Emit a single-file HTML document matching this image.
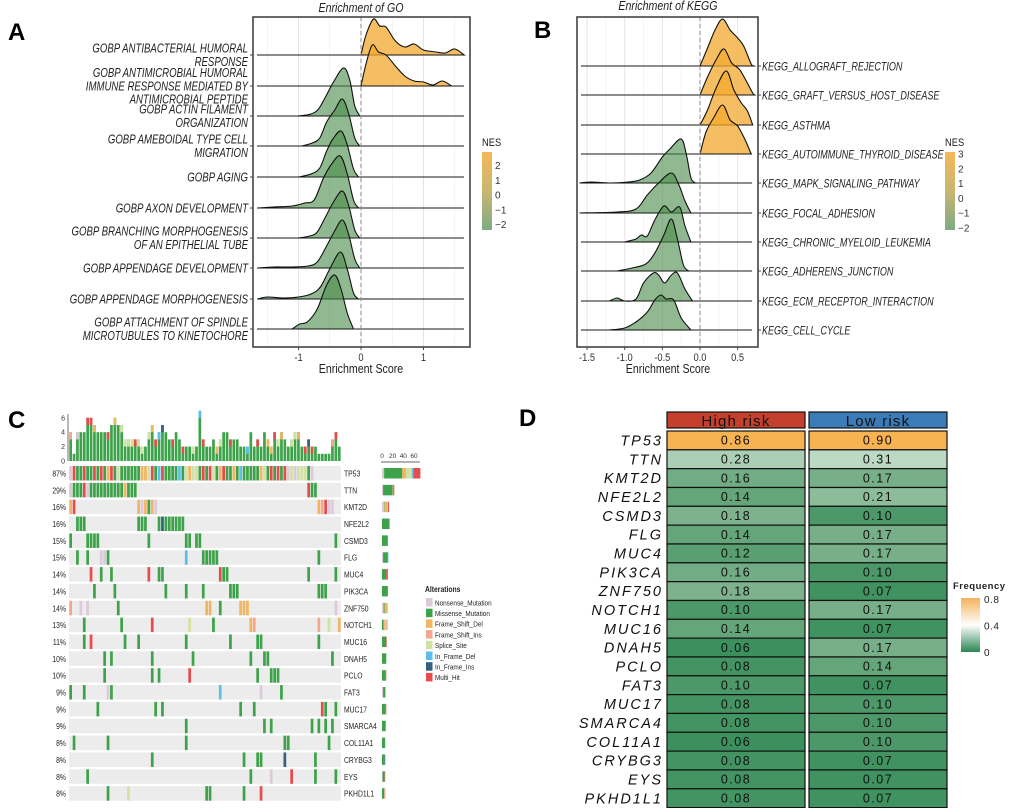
<!DOCTYPE html>
<html><head><meta charset="utf-8"><style>
html,body{margin:0;padding:0;background:#fff;}
svg{display:block;font-family:"Liberation Sans",sans-serif;}
</style></head><body>
<svg id="fig" width="1020" height="808" viewBox="0 0 1020 808" xmlns="http://www.w3.org/2000/svg">
<defs>
<linearGradient id="nesA" x1="0" y1="0" x2="0" y2="1"><stop offset="0" stop-color="#f6b758"/><stop offset="0.5" stop-color="#c9b670"/><stop offset="1" stop-color="#7dab83"/></linearGradient>
<linearGradient id="freqG" x1="0" y1="0" x2="0" y2="1"><stop offset="0" stop-color="#f4b25a"/><stop offset="0.5" stop-color="#ffffff"/><stop offset="1" stop-color="#2a8753"/></linearGradient>
</defs>
<g id="panelA"></g>
<g id="panelB"></g>
<g id="panelC"></g>
<g id="panelD"></g>
<text x="8" y="40" font-size="24" font-weight="bold">A</text>
<text x="534" y="38" font-size="24" font-weight="bold">B</text>
<text x="8" y="428" font-size="24" font-weight="bold">C</text>
<text x="519" y="426" font-size="24" font-weight="bold">D</text>
</svg>
<script>
// ---------- Panel A data ----------
const goTerms = [
 ["GOBP ANTIBACTERIAL HUMORAL","RESPONSE"],
 ["GOBP ANTIMICROBIAL HUMORAL","IMMUNE RESPONSE MEDIATED BY","ANTIMICROBIAL PEPTIDE"],
 ["GOBP ACTIN FILAMENT","ORGANIZATION"],
 ["GOBP AMEBOIDAL TYPE CELL","MIGRATION"],
 ["GOBP AGING"],
 ["GOBP AXON DEVELOPMENT"],
 ["GOBP BRANCHING MORPHOGENESIS","OF AN EPITHELIAL TUBE"],
 ["GOBP APPENDAGE DEVELOPMENT"],
 ["GOBP APPENDAGE MORPHOGENESIS"],
 ["GOBP ATTACHMENT OF SPINDLE","MICROTUBULES TO KINETOCHORE"]
];
const goNES = [2.5, 2.4, -1.9, -1.9, -1.9, -1.9, -1.9, -1.9, -1.9, -2.0];
const goRidges = [
 [[0,0],[0.08,20],[0.2,36],[0.3,29],[0.4,28],[0.55,14],[0.7,8],[0.85,11],[1.0,5],[1.2,3],[1.35,2],[1.5,6],[1.65,0]],
 [[0,0],[0.08,22],[0.18,41],[0.28,34],[0.4,31],[0.55,20],[0.7,10],[0.85,5],[1.0,4],[1.15,1],[1.3,5],[1.45,0]],
 [[-1.0,0],[-0.8,2],[-0.68,7],[-0.56,20],[-0.44,34],[-0.28,48],[-0.18,36],[-0.1,10],[-0.02,0]],
 [[-0.95,0],[-0.78,3],[-0.66,8],[-0.55,24],[-0.42,36],[-0.3,47],[-0.2,33],[-0.1,8],[-0.02,0]],
 [[-1.0,0],[-0.8,3],[-0.66,9],[-0.55,26],[-0.45,38],[-0.32,46],[-0.22,32],[-0.12,8],[-0.04,0]],
 [[-1.65,0],[-1.4,1],[-1.1,2],[-0.9,5],[-0.75,8],[-0.6,30],[-0.47,44],[-0.33,52],[-0.22,34],[-0.12,8],[-0.04,0]],
 [[-1.0,0],[-0.82,2],[-0.7,6],[-0.56,22],[-0.44,36],[-0.3,47],[-0.2,33],[-0.1,8],[-0.02,0]],
 [[-1.65,0],[-1.4,1],[-1.1,1],[-0.85,2],[-0.7,6],[-0.55,22],[-0.43,36],[-0.3,48],[-0.2,34],[-0.1,9],[-0.02,0]],
 [[-1.65,0],[-1.5,2],[-1.25,1],[-1.0,2],[-0.8,5],[-0.65,12],[-0.5,30],[-0.33,47],[-0.22,30],[-0.12,6],[-0.04,0]],
 [[-1.1,0],[-0.98,5],[-0.86,7],[-0.7,20],[-0.55,44],[-0.42,54],[-0.32,40],[-0.22,16],[-0.12,0]]
];
const goTicks = [-1, 0, 1];
const goTickLabels = ["-1","0","1"];
const nesTicksA = [2,1,0,-1,-2];

// ---------- Panel B data ----------
const keggTerms = ["KEGG_ALLOGRAFT_REJECTION","KEGG_GRAFT_VERSUS_HOST_DISEASE","KEGG_ASTHMA","KEGG_AUTOIMMUNE_THYROID_DISEASE","KEGG_MAPK_SIGNALING_PATHWAY","KEGG_FOCAL_ADHESION","KEGG_CHRONIC_MYELOID_LEUKEMIA","KEGG_ADHERENS_JUNCTION","KEGG_ECM_RECEPTOR_INTERACTION","KEGG_CELL_CYCLE"];
const keggNES = [2.8, 2.8, 2.7, 2.6, -1.9, -1.9, -1.9, -2.0, -1.9, -2.0];
const keggRidges = [
 [[0,0],[0.1,18],[0.2,36],[0.3,47],[0.4,36],[0.5,28],[0.58,20],[0.68,2],[0.72,0]],
 [[0,0],[0.1,18],[0.22,36],[0.32,46],[0.42,32],[0.52,26],[0.6,16],[0.7,2],[0.73,0]],
 [[0,0],[0.1,15],[0.22,38],[0.35,54],[0.45,35],[0.55,22],[0.63,14],[0.7,0]],
 [[0,0],[0.08,22],[0.18,36],[0.3,49],[0.4,34],[0.5,28],[0.6,14],[0.68,0]],
 [[-1.6,0],[-1.45,1],[-1.2,0],[-0.95,1],[-0.8,3],[-0.65,10],[-0.5,26],[-0.4,34],[-0.25,44],[-0.18,28],[-0.12,5],[-0.06,0]],
 [[-1.6,0],[-1.1,1],[-0.85,4],[-0.7,18],[-0.55,30],[-0.38,40],[-0.28,28],[-0.2,12],[-0.12,0]],
 [[-1.0,0],[-0.85,3],[-0.78,7],[-0.7,6],[-0.6,22],[-0.48,36],[-0.38,30],[-0.27,35],[-0.2,16],[-0.12,0]],
 [[-1.1,0],[-0.9,3],[-0.72,7],[-0.6,18],[-0.48,36],[-0.38,52],[-0.3,32],[-0.22,6],[-0.15,0]],
 [[-1.2,0],[-1.1,3],[-1.0,0],[-0.85,2],[-0.75,18],[-0.62,28],[-0.55,26],[-0.47,18],[-0.38,26],[-0.3,28],[-0.2,12],[-0.1,0]],
 [[-1.2,0],[-1.0,2],[-0.85,8],[-0.7,18],[-0.6,30],[-0.52,35],[-0.45,31],[-0.35,30],[-0.25,12],[-0.12,0]]
];
const keggTicks = [-1.5,-1.0,-0.5,0.0,0.5];
const keggTickLabels = ["-1.5","-1.0","-0.5","0.0","0.5"];
const nesTicksB = [3,2,1,0,-1,-2];

// ---------- Panel C data ----------
const oncoGenes = ["TP53","TTN","KMT2D","NFE2L2","CSMD3","FLG","MUC4","PIK3CA","ZNF750","NOTCH1","MUC16","DNAH5","PCLO","FAT3","MUC17","SMARCA4","COL11A1","CRYBG3","EYS","PKHD1L1"];
const oncoPct = ["87%","29%","16%","16%","15%","15%","14%","14%","14%","13%","11%","10%","10%","9%","9%","9%","8%","8%","8%","8%"];
const oncoRows = [
 "NHMMHMMHMHMDHMSMMMMMMDDSHMdHMMMMdMSDSSMHMHSMDHMMDMdMMMMMDSMHMHMHNSNSSSMN..........",
 "NMMMHNMMMMMMMMMMDMMM..................................................HMM.......",
 "DH..................DNDMDN...............................................DIHNN...",
 "..MMM...............MMM...MiMMMMMM..............................................",
 "M....MMMM..............M..........MM.MM.......................................M.",
 "..M..M...NNM......................d....MMMMM.............................M......",
 "......H..M..M..........H..MM................HMM.......................M.......M.",
 ".......M.....M..............M.....M....M.......MMM.......................MMM....",
 "I..N.N........M.........................DD..M.....DDD.........................N.",
 "....M..........M........H..........S......M..........DI..................I..S..D",
 "....M.H.........M...M.............M............M.......MM................M......",
 "..........M.M...........M...........M................M...MM..................M..",
 "..........M.............M.M........H...................M...MMM..................",
 "M...M......NM...............................d...........N.....M.................",
 "........M................M.M......................M...M...................HM..M.",
 "..................................M......................M.M...........M.M.M.M..",
 ".M.........M......................M............................MM...........M....",
 "........................M..........................M...MM......i........M.......",
 ".....M...............................................M.....N.....H......M.....M.",
 "...........M.....S......................MM.........M....H......................."
];
const topCounts = [4,1,4,4,4,6,6,5,4,4,4,4,5,6,5,5,3,3,3,3,3,2,2,4,5,3,4,5,4,3,3,4,3,2,2,2,2,2,7,3,2,2,3,2,3,4,4,3,3,3,2,2,2,4,2,3,2,4,3,2,4,3,4,3,2,3,4,4,2,2,3,2,2,1,1,1,1,3,4,2];
const topTopType = "IMNMMHHDMMMHMDMSSSSHSSMSDHdiMMHMMHMMSMdHMMMDSMMHMMMMdMMHMMDDHSDMMSSDMHiHMMSSSIHMM";
const oncoTypes = {N:"#dccadc",M:"#3da34a",D:"#f2b562",I:"#f5a78e",S:"#d2e2a2",d:"#5dbfe9",i:"#33617f",H:"#e84b4b"};
const legendNames = [["N","Nonsense_Mutation"],["M","Missense_Mutation"],["D","Frame_Shift_Del"],["I","Frame_Shift_Ins"],["S","Splice_Site"],["d","In_Frame_Del"],["i","In_Frame_Ins"],["H","Multi_Hit"]];
const topTicks = [0,2,4,6];
const sideTicks = [0,20,40,60];

// ---------- Panel D data ----------
const freqGenes = ["TP53","TTN","KMT2D","NFE2L2","CSMD3","FLG","MUC4","PIK3CA","ZNF750","NOTCH1","MUC16","DNAH5","PCLO","FAT3","MUC17","SMARCA4","COL11A1","CRYBG3","EYS","PKHD1L1"];
const freqHigh = [0.86,0.28,0.16,0.14,0.18,0.14,0.12,0.16,0.18,0.10,0.14,0.06,0.08,0.10,0.08,0.08,0.06,0.08,0.08,0.08];
const freqLow = [0.90,0.31,0.17,0.21,0.10,0.17,0.17,0.10,0.07,0.17,0.07,0.17,0.14,0.07,0.10,0.10,0.10,0.07,0.07,0.07];
const groups = ["High risk","Low risk"];
const freqTicks = [0.8,0.4,0];

// ---------- helpers ----------
const NS = "http://www.w3.org/2000/svg";
function mk(parent, tag, attrs, text){
  const e = document.createElementNS(NS, tag);
  for (const k in attrs) e.setAttribute(k, attrs[k]);
  if (text !== undefined) e.textContent = text;
  parent.appendChild(e);
  return e;
}
function smoothPath(pts){
  let d = `M${pts[0][0].toFixed(2)},${pts[0][1].toFixed(2)}`;
  for (let i=0;i<pts.length-1;i++){
    const p0=pts[i-1]||pts[i], p1=pts[i], p2=pts[i+1], p3=pts[i+2]||p2;
    const c1x=p1[0]+(p2[0]-p0[0])/6, c1y=p1[1]+(p2[1]-p0[1])/6;
    const c2x=p2[0]-(p3[0]-p1[0])/6, c2y=p2[1]-(p3[1]-p1[1])/6;
    d += `C${c1x.toFixed(2)},${c1y.toFixed(2)} ${c2x.toFixed(2)},${c2y.toFixed(2)} ${p2[0].toFixed(2)},${p2[1].toFixed(2)}`;
  }
  return d;
}
function ridgePanel(g, cfg){
  const {left,right,top,bottom,x0,xs,baselines,ridges,nes,ticks,tickLabels,gridMinor} = cfg;
  const X = v => x0 + v*xs;
  gridMinor.forEach(v=>{
    const l = mk(g,"line",{x1:X(v),x2:X(v),y1:top,y2:bottom,stroke:"#ececec","stroke-width":0.6});
    
    
  });
  ticks.forEach(v=>{
    const l = mk(g,"line",{x1:X(v),x2:X(v),y1:top,y2:bottom,stroke:"#e2e2e2","stroke-width":0.9});
    
    
  });
  ridges.forEach((r,i)=>{
    const b = baselines[i];
    const pts = r.map(p=>[X(p[0]), b - p[1]]);
    const fill = nes[i] > 0 ? "rgba(243,168,45,0.75)" : "rgba(72,138,72,0.6)";
    const base = mk(g,"line",{x1:left+4,x2:right-6,y1:b,y2:b,stroke:"#1a1a1a","stroke-width":1.1});
    
    
    const p = mk(g,"path",{d:smoothPath(pts)+"Z",fill:fill,stroke:"#111","stroke-width":1.1});
    
    
  });
  const z = mk(g,"line",{x1:X(0),x2:X(0),y1:top,y2:bottom,stroke:"#888","stroke-width":1,"stroke-dasharray":"4,3"});
  
  
  const fr = mk(g,"rect",{x:left,y:top,width:right-left,height:bottom-top,fill:"none",stroke:"#444","stroke-width":1.6});
  
  
  ticks.forEach((v,i)=>{
    const t = mk(g,"line",{x1:X(v),x2:X(v),y1:bottom,y2:bottom+3,stroke:"#444"});
    
    
    const tx = mk(g,"text",{x:X(v),y:bottom+14,"font-size":11,"text-anchor":"middle",fill:"#333",transform:`translate(${X(v)},0) scale(0.85,1) translate(${-X(v)},0)`},tickLabels[i]);
    
    
  });
}

// ---------- Panel A ----------
(function(){
  const g = document.getElementById('panelA');
  const baselines = [55,86,116,146,177,208,238,268,299,329];
  ridgePanel(g,{left:253,right:470,top:17,bottom:347,x0:361,xs:62.5,baselines,ridges:goRidges,nes:goNES,ticks:goTicks,tickLabels:goTickLabels,gridMinor:[-1.5,-0.5,0.5,1.5]});
  const t = mk(g,"text",{x:361,y:12,"font-size":12.5,"font-style":"italic","text-anchor":"middle",fill:"#222",transform:"translate(361,0) scale(0.85,1) translate(-361,0)"},"Enrichment of GO");
   
  const xt = mk(g,"text",{x:361,y:373,"font-size":12.5,"text-anchor":"middle",fill:"#222",transform:"translate(361,0) scale(0.85,1) translate(-361,0)"},"Enrichment Score");
   
  goTerms.forEach((lines,i)=>{
    const b = baselines[i];
    const tk = mk(g,"line",{x1:250,x2:253,y1:b,y2:b,stroke:"#444"});
     
    lines.forEach((s,j)=>{
      const y = b + (j-(lines.length-1)/2)*13.4 + 4.3;
      const tx = mk(g,"text",{x:248,y:y,"font-size":12.5,"font-style":"italic","text-anchor":"end",fill:"#222",transform:`translate(248,0) scale(0.77,1) translate(-248,0)`},s);
       
    });
  });
  const lt = mk(g,"text",{x:482,y:146,"font-size":11,fill:"#222",transform:"translate(482,0) scale(0.85,1) translate(-482,0)"},"NES");
   
  const cb = mk(g,"rect",{x:482,y:152,width:10,height:78,fill:"url(#nesA)"});
   
  nesTicksA.forEach(v=>{
    const y = 230 - (v+2.4)/(2.9+2.4)*78;
    const tx = mk(g,"text",{x:495,y:y+4,"font-size":10,fill:"#333"},v<0?"\u2212"+Math.abs(v):String(v));
     
  });
})();

// ---------- Panel B ----------
(function(){
  const g = document.getElementById('panelB');
  const baselines = [66,95,125,154,183,213,242,271,301,330];
  ridgePanel(g,{left:577,right:758,top:17,bottom:347,x0:700,xs:75.3,baselines,ridges:keggRidges,nes:keggNES,ticks:keggTicks,tickLabels:keggTickLabels,gridMinor:[-1.25,-0.75,-0.25,0.25]});
  const t = mk(g,"text",{x:668,y:10,"font-size":12.5,"font-style":"italic","text-anchor":"middle",fill:"#222",transform:"translate(668,0) scale(0.85,1) translate(-668,0)"},"Enrichment of KEGG");
   
  const xt = mk(g,"text",{x:668,y:373,"font-size":12.5,"text-anchor":"middle",fill:"#222",transform:"translate(668,0) scale(0.85,1) translate(-668,0)"},"Enrichment Score");
   
  keggTerms.forEach((s,i)=>{
    const b = baselines[i];
    const tk = mk(g,"line",{x1:758,x2:761,y1:b,y2:b,stroke:"#444"});
     
    const tx = mk(g,"text",{x:762,y:b+4.3,"font-size":12,"font-style":"italic",fill:"#222",transform:"translate(762,0) scale(0.75,1) translate(-762,0)"},s);
     
  });
  const lt = mk(g,"text",{x:945,y:146,"font-size":11,fill:"#222",transform:"translate(945,0) scale(0.85,1) translate(-945,0)"},"NES");
   
  const cb = mk(g,"rect",{x:945,y:152,width:10,height:78,fill:"url(#nesA)"});
   
  nesTicksB.forEach(v=>{
    const y = 229 - (v+2.1)/(3.1+2.1)*77;
    const tx = mk(g,"text",{x:958,y:y+4,"font-size":10,fill:"#333"},v<0?"\u2212"+Math.abs(v):String(v));
     
  });
})();

// ---------- Panel C ----------
(function(){
  const g = document.getElementById('panelC');
  const nCol = 80, cx0 = 69, cw = 3.4, ry0 = 466, rh = 16.85, ch = 14.5;
  const colX = c => cx0 + c*cw;
  const ty0 = 461, tys = 7.2;
  const ax = mk(g,"line",{x1:68,x2:68,y1:414,y2:461,stroke:"#333","stroke-width":0.7});
   
  topTicks.forEach(v=>{
    const tx = mk(g,"text",{x:65,y:ty0-v*tys+2.5,"font-size":7,"text-anchor":"end",fill:"#333"},String(v));
     
  });
  topCounts.forEach((v,c)=>{
    const h = v*tys;
    const b = mk(g,"rect",{x:colX(c)+0.3,y:ty0-h,width:cw-0.7,height:h,fill:oncoTypes.M});
     
    const tt = topTopType[c];
    if (tt && tt!=="M" && v>1){
      const s = mk(g,"rect",{x:colX(c)+0.3,y:ty0-h,width:cw-0.7,height:tys,fill:oncoTypes[tt]});
       
    }
  });
  oncoRows.forEach((row,r)=>{
    const y = ry0 + r*rh;
    const bg = mk(g,"rect",{x:cx0,y:y,width:nCol*cw,height:ch,fill:"#ececec"});
     
    for (let c=0;c<nCol;c++){
      const t = row[c];
      if (t && t!=="."){
        const cell = mk(g,"rect",{x:colX(c)+0.3,y:y,width:cw-0.7,height:ch,fill:oncoTypes[t]});
         
      }
    }
    const pl = mk(g,"text",{x:66,y:y+10.5,"font-size":8.5,"text-anchor":"end",fill:"#222",transform:"translate(66,0) scale(0.8,1) translate(-66,0)"},oncoPct[r]);
     
    const gl = mk(g,"text",{x:344,y:y+10.5,"font-size":8.5,fill:"#222",transform:"translate(344,0) scale(0.8,1) translate(-344,0)"},oncoGenes[r]);
     
    let x = 382;
    ["N","M","D","I","S","d","i","H"].forEach(k=>{
      let n = 0; for (const ch2 of row) if (ch2===k) n++;
      if (n){
        const w = n*0.533;
        const sb = mk(g,"rect",{x:x,y:y+2,width:w,height:ch-4,fill:oncoTypes[k]});
         
        x += w;
      }
    });
  });
  const sa = mk(g,"line",{x1:381,x2:420,y1:462,y2:462,stroke:"#333","stroke-width":0.7});
   
  sideTicks.forEach(v=>{
    const tx = mk(g,"text",{x:382+v*0.533,y:458,"font-size":6.5,"text-anchor":"middle",fill:"#333"},String(v));
     
  });
  const lt = mk(g,"text",{x:425,y:592,"font-size":8,"font-weight":"bold",fill:"#222",transform:"translate(425,0) scale(0.85,1) translate(-425,0)"},"Alterations");
   
  legendNames.forEach((e,i)=>{
    const y = 598 + i*10.7;
    const sw = mk(g,"rect",{x:426,y:y,width:6.5,height:8.5,fill:oncoTypes[e[0]]});
     
    const tx = mk(g,"text",{x:435,y:y+7.3,"font-size":7.5,fill:"#222",transform:"translate(435,0) scale(0.85,1) translate(-435,0)"},e[1]);
     
  });
})();

// ---------- Panel D ----------
(function(){
  const g = document.getElementById('panelD');
  const stops = [[0,[33,131,78]],[0.1,[77,152,104]],[0.2,[137,185,150]],[0.3,[180,213,189]],[0.4,[245,248,245]],[0.8,[246,178,84]]];
  function col(v){
    if (v>=0.8) return `rgb(247,178,82)`;
    for (let i=0;i<stops.length-1;i++){
      const a=stops[i], b=stops[i+1];
      if (v>=a[0] && v<=b[0]){
        const t=(v-a[0])/(b[0]-a[0]);
        const c=a[1].map((x,k)=>Math.round(x+(b[1][k]-x)*t));
        return `rgb(${c[0]},${c[1]},${c[2]})`;
      }
    }
    return "rgb(33,131,78)";
  }
  const colX = [667,809], cw = 138, y0 = 431, rh = 18.83;
  const hdrCols = ["#c4402c","#3b7bb7"];
  groups.forEach((s,i)=>{
    const r = mk(g,"rect",{x:colX[i],y:412,width:cw,height:16,fill:hdrCols[i],stroke:"#111","stroke-width":1.2});
     
    const t = mk(g,"text",{x:colX[i]+cw/2,y:426,"font-size":15,"text-anchor":"middle",fill:"#111","letter-spacing":"1.2"},s);
     
  });
  freqGenes.forEach((gname,r)=>{
    const y = y0 + r*rh;
    const gl = mk(g,"text",{x:663,y:y+14.5,"font-size":14.5,"font-style":"italic","text-anchor":"end",fill:"#111","letter-spacing":"2"},gname);
     
    [freqHigh[r],freqLow[r]].forEach((v,i)=>{
      const c = mk(g,"rect",{x:colX[i],y:y,width:cw,height:rh,fill:col(v),stroke:"#111","stroke-width":1.2});
       
      const t = mk(g,"text",{x:colX[i]+cw/2,y:y+13.7,"font-size":12.5,"text-anchor":"middle",fill:"#111","letter-spacing":"1.5"},v.toFixed(2));
       
    });
  });
  const lt = mk(g,"text",{x:953,y:589,"font-size":9.5,"font-weight":"bold",fill:"#222","letter-spacing":"0.5"},"Frequency");
   
  const cb = mk(g,"rect",{x:961,y:598,width:19,height:54,fill:"url(#freqG)"});
   
  freqTicks.forEach(v=>{
    const y = 652 - v/0.8*53;
    const t = mk(g,"text",{x:984,y:y+4,"font-size":10,fill:"#222","letter-spacing":"0.5"},String(v));
     
  });
})();
</script>
</body></html>
